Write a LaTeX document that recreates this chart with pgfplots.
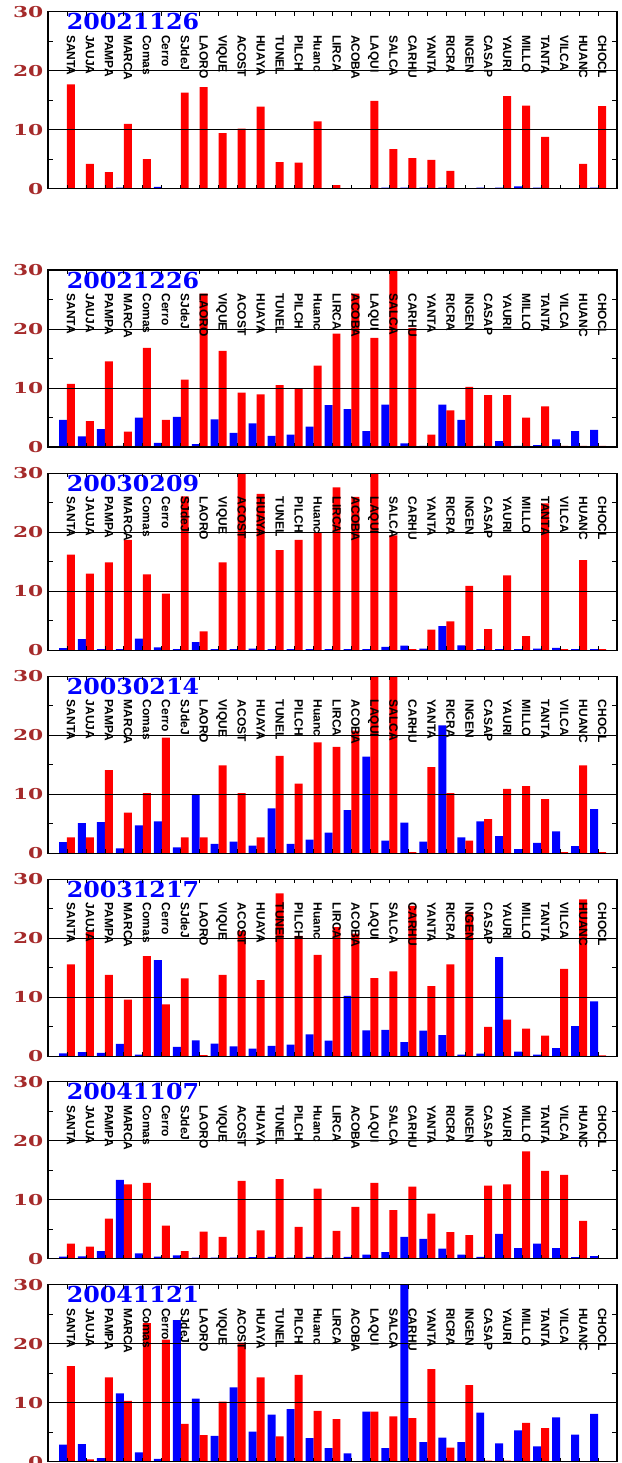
\documentclass[border=0pt]{standalone}
\usepackage{fontspec}
\usepackage{pgfplots}
\pgfplotsset{compat=1.18}
\newfontfamily\labfont{Liberation Sans}
\newfontfamily\numfont{DejaVu Serif}
\definecolor{tickred}{RGB}{165,42,42}
\newcommand\catname[1]{\ifcase#1\or SANTA\or JAUJA\or PAMPA\or MARCA\or Comas\or Cerro\or SJdeJ\or LAORO\or VIQUE\or ACOST\or HUAYA\or TUNEL\or PILCH\or Huanc\or LIRCA\or ACOBA\or LAQUI\or SALCA\or CARHU\or YANTA\or RICRA\or INGEN\or CASAP\or YAURI\or MILLO\or TANTA\or VILCA\or HUANC\or CHOCL\fi}
\tikzset{catlab/.style={rotate=-90, anchor=base west, inner sep=0pt, font=\labfont\bfseries\fontsize{12}{12}\selectfont}}
\pgfplotsset{panel/.style={
  scale only axis, width=569pt, height=177pt,
  xmin=0, xmax=30, ymin=0, ymax=30,
  xtick={1,...,29}, xticklabels={},
  ytick={0,10,20,30}, yticklabels={0,10,20,30},
  minor ytick={5,15,25},
  ymajorgrids, major grid style={black, line width=0.9pt},
  axis line style={line width=1.2pt},
  tick style={black, line width=0.8pt},
  tick align=inside, major tick length=4pt, minor tick length=5pt,
  yticklabel style={font=\numfont\bfseries\fontsize{15}{15}\selectfont, text=tickred, xscale=1.45, inner sep=0pt, anchor=east, xshift=-3pt},
  axis on top, clip=true,
}}
\newcommand{\panel}[4]{%
\begin{axis}[panel, at={(48pt,-#1pt)}, anchor=north west]
\addplot[ybar, bar width=0.42, bar shift=-0.21, fill=blue, draw=none] coordinates {#3};
\addplot[ybar, bar width=0.42, bar shift=0.21, fill=red, draw=none] coordinates {#4};
\node[anchor=base west, inner sep=0pt, text=blue, font=\numfont\bfseries\fontsize{22}{22}\selectfont, xscale=1.08] at (axis cs:0.98,26.92) {#2};
\pgfplotsinvokeforeach{1,...,29}{\node[catlab] at (axis cs:##1,26.05) {\catname{##1}};}
\end{axis}}
\begin{document}
\begin{tikzpicture}
\panel{11.7}{20021126}
{(1,0.1)(2,0.1)(3,0.1)(4,0.2)(5,0.1)(6,0.3)(7,0.1)(8,0.1)(9,0.1)(10,0.1)(11,0.1)(12,0.1)(13,0.1)(14,0.1)(15,0.1)(16,0.1)(17,0.1)(18,0.2)(19,0.2)(20,0.2)(21,0.2)(22,0.1)(23,0.2)(24,0.2)(25,0.4)(26,0.2)(27,0.1)(28,0.1)(29,0.2)}
{(1,17.7)(2,4.2)(3,2.8)(4,11.0)(5,5.0)(6,0.1)(7,16.3)(8,17.2)(9,9.4)(10,10.2)(11,13.9)(12,4.5)(13,4.4)(14,11.4)(15,0.6)(16,0.1)(17,14.9)(18,6.7)(19,5.2)(20,4.9)(21,3.0)(22,0.1)(23,0.1)(24,15.7)(25,14.1)(26,8.8)(27,0.1)(28,4.2)(29,14.0)}
\panel{270}{20021226}
{(1,4.6)(2,1.8)(3,3.05)(4,0.2)(5,5.0)(6,0.7)(7,5.1)(8,0.5)(9,4.7)(10,2.4)(11,4.0)(12,1.9)(13,2.1)(14,3.45)(15,7.1)(16,6.4)(17,2.7)(18,7.2)(19,0.6)(20,0.2)(21,7.2)(22,4.6)(23,0.2)(24,1.0)(25,0.2)(26,0.3)(27,1.3)(28,2.7)(29,2.9)}
{(1,10.7)(2,4.4)(3,14.5)(4,2.6)(5,16.8)(6,4.6)(7,11.4)(8,26.0)(9,16.3)(10,9.2)(11,8.9)(12,10.5)(13,9.8)(14,13.8)(15,19.2)(16,26.0)(17,18.5)(18,32)(19,20.2)(20,2.1)(21,6.2)(22,10.2)(23,8.8)(24,8.8)(25,5.0)(26,6.9)(27,0.2)(28,0.2)(29,0.2)}
\panel{473.3}{20030209}
{(1,0.35)(2,1.9)(3,0.2)(4,0.2)(5,2.0)(6,0.5)(7,0.2)(8,1.4)(9,0.2)(10,0.2)(11,0.3)(12,0.2)(13,0.2)(14,0.2)(15,0.2)(16,0.2)(17,0.2)(18,0.6)(19,0.8)(20,0.3)(21,4.1)(22,0.85)(23,0.2)(24,0.2)(25,0.2)(26,0.3)(27,0.4)(28,0.2)(29,0.2)}
{(1,16.2)(2,13.0)(3,14.9)(4,18.7)(5,12.85)(6,9.6)(7,26.1)(8,3.2)(9,14.9)(10,32)(11,26.5)(12,17.0)(13,18.7)(14,20.0)(15,27.6)(16,26.0)(17,32)(18,19.5)(19,0.2)(20,3.5)(21,4.9)(22,10.9)(23,3.6)(24,12.7)(25,2.4)(26,24.9)(27,0.2)(28,15.3)(29,0.2)}
\panel{676.3}{20030214}
{(1,1.9)(2,5.1)(3,5.3)(4,0.85)(5,4.75)(6,5.4)(7,1.0)(8,10.0)(9,1.6)(10,2.0)(11,1.3)(12,7.6)(13,1.6)(14,2.3)(15,3.5)(16,7.3)(17,16.4)(18,2.15)(19,5.2)(20,2.0)(21,21.7)(22,2.7)(23,5.4)(24,2.9)(25,0.7)(26,1.75)(27,3.7)(28,1.2)(29,7.5)}
{(1,2.7)(2,2.7)(3,14.1)(4,6.9)(5,10.2)(6,19.6)(7,2.7)(8,2.7)(9,14.9)(10,10.2)(11,2.7)(12,16.5)(13,11.8)(14,18.8)(15,18.05)(16,20.8)(17,32)(18,32)(19,0.2)(20,14.6)(21,10.2)(22,2.15)(23,5.8)(24,10.9)(25,11.4)(26,9.2)(27,0.2)(28,14.9)(29,0.2)}
\panel{879.3}{20031217}
{(1,0.5)(2,0.7)(3,0.6)(4,2.1)(5,0.3)(6,16.3)(7,1.6)(8,2.7)(9,2.15)(10,1.7)(11,1.3)(12,1.75)(13,2.0)(14,3.7)(15,2.65)(16,10.25)(17,4.4)(18,4.5)(19,2.4)(20,4.35)(21,3.6)(22,0.3)(23,0.45)(24,16.8)(25,0.8)(26,0.3)(27,1.4)(28,5.1)(29,9.3)}
{(1,15.6)(2,21.1)(3,13.8)(4,9.6)(5,17.0)(6,8.8)(7,13.2)(8,0.2)(9,13.8)(10,21.2)(11,12.9)(12,27.6)(13,20.4)(14,17.2)(15,21.9)(16,20.8)(17,13.25)(18,14.4)(19,25.5)(20,11.9)(21,15.6)(22,24.5)(23,5.0)(24,6.2)(25,4.7)(26,3.5)(27,14.8)(28,26.6)(29,0.15)}
\panel{1081.7}{20041107}
{(1,0.35)(2,0.4)(3,1.3)(4,13.35)(5,0.9)(6,0.35)(7,0.55)(8,0.2)(9,0.2)(10,0.2)(11,0.25)(12,0.3)(13,0.2)(14,0.3)(15,0.2)(16,0.3)(17,0.7)(18,1.1)(19,3.7)(20,3.35)(21,1.7)(22,0.7)(23,0.3)(24,4.2)(25,1.8)(26,2.55)(27,1.8)(28,0.25)(29,0.45)}
{(1,2.55)(2,2.05)(3,6.8)(4,12.6)(5,12.85)(6,5.6)(7,1.3)(8,4.6)(9,3.7)(10,13.2)(11,4.8)(12,13.5)(13,5.4)(14,11.9)(15,4.7)(16,8.8)(17,12.85)(18,8.25)(19,12.2)(20,7.65)(21,4.5)(22,4.0)(23,12.4)(24,12.6)(25,18.2)(26,14.9)(27,14.2)(28,6.4)(29,0.1)}
\panel{1284.7}{20041121}
{(1,2.9)(2,3.0)(3,0.6)(4,11.6)(5,1.6)(6,0.5)(7,24.0)(8,10.7)(9,4.4)(10,12.6)(11,5.1)(12,8.0)(13,8.9)(14,4.0)(15,2.3)(16,1.4)(17,8.5)(18,2.3)(19,32)(20,3.3)(21,4.1)(22,3.3)(23,8.3)(24,3.1)(25,5.3)(26,2.6)(27,7.5)(28,4.6)(29,8.1)}
{(1,16.2)(2,0.4)(3,14.3)(4,10.3)(5,23.5)(6,20.7)(7,6.4)(8,4.5)(9,10.2)(10,20.2)(11,14.3)(12,4.3)(13,14.7)(14,8.6)(15,7.2)(16,0.1)(17,8.5)(18,7.7)(19,7.4)(20,15.7)(21,2.4)(22,13.0)(23,0.2)(24,0.2)(25,6.6)(26,5.7)(27,0.1)(28,0.1)(29,0.1)}
\pgfresetboundingbox
\path[use as bounding box] (0,0) rectangle (621pt,-1463pt);
\end{tikzpicture}
\end{document}
